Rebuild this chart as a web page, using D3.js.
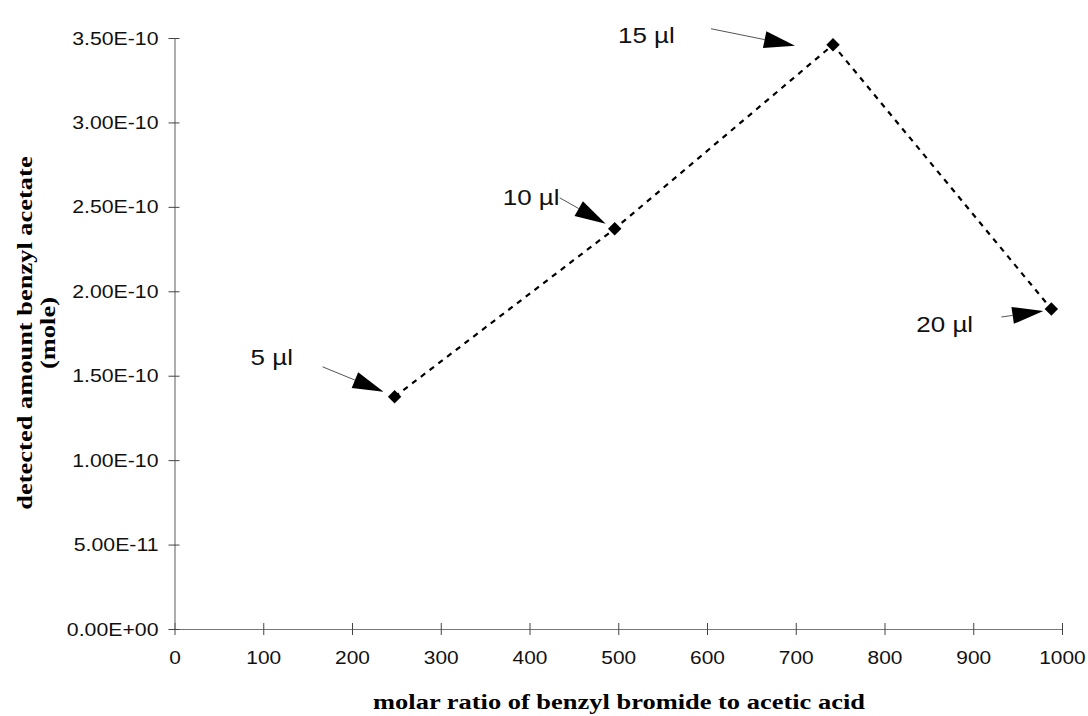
<!DOCTYPE html>
<html><head><meta charset="utf-8">
<script src="https://cdn.jsdelivr.net/npm/d3@7"></script>
<style>body{margin:0;background:#fff;}svg{display:block;}</style>
</head><body>
<svg id="c" width="1088" height="716"></svg>
<script>
const xValues = [248, 496, 742, 988];
const yValues = [1.375e-10, 2.37e-10, 3.46e-10, 1.895e-10];
const labels = ["5 µl", "10 µl", "15 µl", "20 µl"];
const xTicks = [0,100,200,300,400,500,600,700,800,900,1000];
const yTicks = [0,5e-11,1e-10,1.5e-10,2e-10,2.5e-10,3e-10,3.5e-10];
const yTickLabels = ["0.00E+00","5.00E-11","1.00E-10","1.50E-10","2.00E-10","2.50E-10","3.00E-10","3.50E-10"];
const xTitle = "molar ratio of benzyl bromide to acetic acid";
const yTitle = ["detected amount benzyl acetate", "(mole)"];

// annotation offsets (px, relative to point): text baseline, arrow tail, arrow tip
const annot = [
  {t:[-144,-40], tail:[-72,-30], tip:[-11,-5]},
  {t:[-112,-32], tail:[-55,-31], tip:[-9,-5]},
  {t:[-215,-10], tail:[-122,-16], tip:[-38,1]},
  {t:[-135,15], tail:[-50,8], tip:[-8,2]}
];

const SANS = "Liberation Sans, Arial, sans-serif";
const SERIF = "Liberation Serif, Times New Roman, serif";

const svg = d3.select("#c");
const x = d3.scaleLinear().domain([0,1000]).range([174.5,1062]);
const y = d3.scaleLinear().domain([0,3.5e-10]).range([629,38]);

// axes
const gx = svg.append("g").attr("transform","translate(0,629)")
  .call(d3.axisBottom(x).tickValues(xTicks).tickFormat(d3.format("d")).tickSize(0).tickPadding(22));
gx.select(".domain").attr("stroke","#777").attr("stroke-width",1.2);
gx.selectAll(".tick").append("line").attr("y1",-6).attr("y2",6).attr("stroke","#444");
gx.selectAll("text").style("font-family",SANS).style("font-size","19px").attr("fill","#111")
  .attr("dy","0.71em").attr("transform","scale(1.1,1)");

const gy = svg.append("g").attr("transform","translate(174.5,0)")
  .call(d3.axisLeft(y).tickValues(yTicks).tickFormat((d,i)=>yTickLabels[i]).tickSize(0).tickPadding(16));
gy.select(".domain").attr("stroke","#777").attr("stroke-width",1.2);
gy.selectAll(".tick").append("line").attr("x1",-6).attr("x2",5).attr("stroke","#444");
gy.selectAll("text").style("font-family",SANS).style("font-size","19px").attr("fill","#111")
  .attr("x",-16/1.12).attr("transform","scale(1.12,1)");

// axis titles
svg.append("text").attr("transform","translate(619,709) scale(1.26,1)").attr("text-anchor","middle")
  .style("font-family",SERIF).style("font-weight","bold").style("font-size","21px")
  .text(xTitle);
const yt = svg.append("text").attr("transform","translate(32,333) rotate(-90) scale(1.26,1)").attr("text-anchor","middle")
  .style("font-family",SERIF).style("font-weight","bold").style("font-size","21px");
yt.append("tspan").attr("x",0).attr("dy",0).text(yTitle[0]);
yt.append("tspan").attr("x",0).attr("dy",23).text(yTitle[1]);

const pts = xValues.map((v,i)=>({x:x(v), y:y(yValues[i]), label:labels[i], a:annot[i]}));

// dashed line
svg.append("path").datum(pts)
  .attr("d", d3.line().x(d=>d.x).y(d=>d.y))
  .attr("fill","none").attr("stroke","#000").attr("stroke-width",2.2).attr("stroke-dasharray","5.5,5.5");

// markers
svg.selectAll(".m").data(pts).enter().append("path")
  .attr("d", d3.symbol().type(d3.symbolSquare).size(90))
  .attr("transform", d=>`translate(${d.x},${d.y}) rotate(45)`).attr("fill","#000");

// annotations
pts.forEach(p=>{
  const a = p.a;
  const tx = p.x + a.tail[0], ty = p.y + a.tail[1];
  const hx = p.x + a.tip[0], hy = p.y + a.tip[1];
  const ang = Math.atan2(hy-ty, hx-tx);
  const L = 31, W = 8.5;
  const bx = hx - L*Math.cos(ang), by = hy - L*Math.sin(ang);
  svg.append("line").attr("x1",tx).attr("y1",ty).attr("x2",bx).attr("y2",by).attr("stroke","#555").attr("stroke-width",1);
  const nx = -Math.sin(ang), ny = Math.cos(ang);
  svg.append("path").attr("d",`M${hx},${hy}L${bx+nx*W},${by+ny*W}L${bx-nx*W},${by-ny*W}Z`).attr("fill","#000");
  svg.append("text").attr("transform",`translate(${p.x+a.t[0]},${p.y+a.t[1]+8}) scale(1.18,1)`)
    .style("font-family",SANS).style("font-size","22px").attr("fill","#111").text(p.label);
});
</script>
</body></html>
